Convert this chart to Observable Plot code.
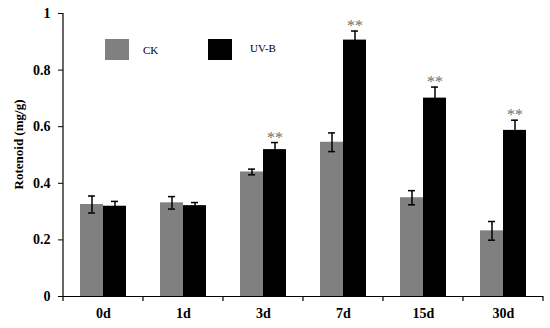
<!DOCTYPE html>
<html>
<head>
<meta charset="utf-8">
<script src="https://cdn.jsdelivr.net/npm/d3@7"></script>
<script src="https://cdn.jsdelivr.net/npm/@observablehq/plot@0.6"></script>
<style>
  html, body { margin: 0; padding: 0; background: #fff; }
  #wrap { position: relative; width: 550px; height: 328px; }
  .legend { position: absolute; top: 0; left: 0; font-family: "Liberation Serif", serif; font-size: 11px; color: #000; }
  .legend .sw { position: absolute; width: 24px; height: 21px; }
  .legend .lb { position: absolute; white-space: nowrap; }
</style>
</head>
<body>
<div id="wrap"></div>
<script>
const days = ["0d", "1d", "3d", "7d", "15d", "30d"];
const seriesNames = ["CK", "UV-B"];
const ckValues = [0.325, 0.331, 0.440, 0.545, 0.349, 0.232];
const ckErrors = [0.030, 0.022, 0.010, 0.033, 0.025, 0.033];
const uvbValues = [0.319, 0.321, 0.519, 0.906, 0.701, 0.587];
const uvbErrors = [0.017, 0.011, 0.025, 0.032, 0.039, 0.036];
const significance = ["", "", "**", "**", "**", "**"];
const yTicks = [0, 0.2, 0.4, 0.6, 0.8, 1];
const yLabel = "Rotenoid (mg/g)";
const colors = ["#808080", "#000000"];

const rows = [];
days.forEach((d, i) => {
  rows.push({day: d, series: "CK", value: ckValues[i], err: ckErrors[i], sig: ""});
  rows.push({day: d, series: "UV-B", value: uvbValues[i], err: uvbErrors[i], sig: significance[i]});
});

const plot = Plot.plot({
  width: 550,
  height: 328,
  marginLeft: 62,
  marginRight: 6,
  marginTop: 13,
  marginBottom: 32,
  style: {fontFamily: "Liberation Serif", fontSize: "14px", fontWeight: "bold", background: "#fff"},
  fx: {domain: days, padding: 0, label: null, tickSize: 0, tickPadding: 12},
  x: {domain: seriesNames, paddingInner: 0, paddingOuter: 0.7, axis: null},
  y: {domain: [0, 1], ticks: yTicks, tickFormat: d => String(d), tickSize: 5, tickPadding: 8, label: null},
  color: {domain: seriesNames, range: colors},
  facet: {data: rows, x: "day"},
  marks: [
    Plot.barY(rows, {x: "series", y: "value", fill: "series"}),
    Plot.ruleX(rows, {x: "series", y1: d => d.value - d.err, y2: d => d.value + d.err, stroke: "#000", strokeWidth: 1.5}),
    Plot.tickY(rows, {x: "series", y: d => d.value + d.err, stroke: "#000", strokeWidth: 1.5, insetLeft: 8, insetRight: 8}),
    Plot.tickY(rows, {x: "series", y: d => d.value - d.err, stroke: "#000", strokeWidth: 1.5, insetLeft: 8, insetRight: 8}),
    Plot.text(rows, {filter: d => d.sig !== "", x: "series", y: d => d.value + d.err, text: "sig", dy: -5,
      fill: "#707070", fontWeight: "normal", fontSize: 16, letterSpacing: 1}),
    Plot.ruleY([0], {stroke: "#000", strokeWidth: 1.2})
  ]
});

// y-axis line, category boundary ticks and y label, positioned through Plot's scales
const fx = plot.scale("fx");
const y = plot.scale("y");
const svg = d3.select(plot);
const g = svg.append("g").attr("stroke", "#000").attr("stroke-width", 1.2);
const x0 = fx.apply(days[0]);
g.append("line").attr("x1", x0).attr("x2", x0).attr("y1", y.apply(0)).attr("y2", y.apply(1));
const bounds = days.map(d => fx.apply(d)).concat([fx.apply(days[days.length - 1]) + fx.bandwidth]);
bounds.forEach(b => {
  g.append("line").attr("x1", b).attr("x2", b).attr("y1", y.apply(0)).attr("y2", y.apply(0) + 5);
});
const yMid = (y.apply(0) + y.apply(1)) / 2;
svg.append("text")
  .attr("transform", `translate(${x0 - 45},${yMid - 10}) rotate(-90)`)
  .attr("text-anchor", "middle")
  .attr("dy", "0.35em")
  .attr("font-family", "Liberation Serif")
  .attr("font-size", 13)
  .attr("font-weight", "bold")
  .attr("fill", "#000")
  .text(yLabel);

const wrap = document.getElementById("wrap");
wrap.appendChild(plot);

// legend overlay
const legend = document.createElement("div");
legend.className = "legend";
const legendPos = [{sx: 105, tx: 143, ty: 44}, {sx: 208, tx: 250, ty: 42}];
seriesNames.forEach((name, i) => {
  const sw = document.createElement("div");
  sw.className = "sw";
  sw.style.left = legendPos[i].sx + "px";
  sw.style.top = "39px";
  sw.style.background = colors[i];
  legend.appendChild(sw);
  const lb = document.createElement("div");
  lb.className = "lb";
  lb.style.left = legendPos[i].tx + "px";
  lb.style.top = legendPos[i].ty + "px";
  lb.textContent = name;
  legend.appendChild(lb);
});
wrap.appendChild(legend);
</script>
</body>
</html>
